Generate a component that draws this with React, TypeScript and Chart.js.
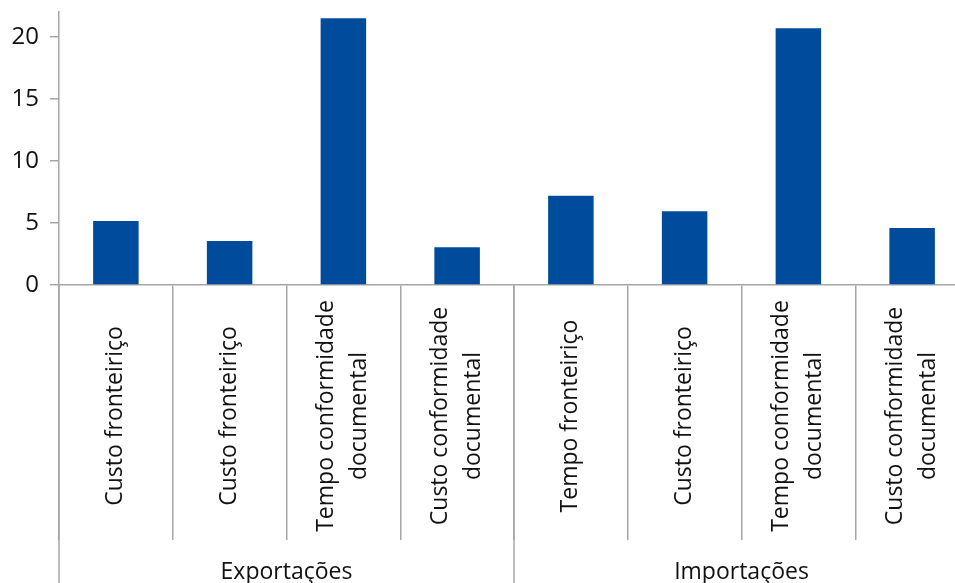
import { useEffect, useRef } from "react";
import { Chart, registerables } from "chart.js";

Chart.register(...registerables);

// categories of the lower axis level, one array of lines per bar
const categories: string[][] = [
  ["Custo fronteiriço"],
  ["Custo fronteiriço"],
  ["Tempo conformidade", "documental"],
  ["Custo conformidade", "documental"],
  ["Tempo fronteiriço"],
  ["Custo fronteiriço"],
  ["Tempo conformidade", "documental"],
  ["Custo conformidade", "documental"],
];

// upper axis level
const groups = ["Exportações", "Importações"];
const groupSizes = [4, 4];

const values = [5.15, 3.55, 21.5, 3.05, 7.2, 5.95, 20.7, 4.6];

const yTicks = [0, 5, 10, 15, 20];

const FONT = "'Open Sans', 'Noto Sans', sans-serif";
const GREY = "#a6a6a6";
const BLUE = "#004b9b";

// draws the two-level category axis from the x scale
const groupAxisPlugin = {
  id: "groupAxis",
  afterDraw(chart: Chart) {
    const x = chart.scales.x;
    const ctx = chart.ctx;
    const step = x.getPixelForValue(1) - x.getPixelForValue(0);

    ctx.save();
    ctx.fillStyle = "#111";
    ctx.font = `23px ${FONT}`;
    ctx.textAlign = "center";
    ctx.textBaseline = "middle";

    const midY = x.top + 131;
    const lineH = 33;
    categories.forEach((lines, i) => {
      const px = x.getPixelForValue(i);
      ctx.save();
      ctx.translate(px, midY);
      ctx.rotate(-Math.PI / 2);
      lines.forEach((line, j) => {
        ctx.fillText(line, 0, (j - (lines.length - 1) / 2) * lineH);
      });
      ctx.restore();
    });

    // group separators and names
    ctx.strokeStyle = GREY;
    ctx.lineWidth = 1.5;
    ctx.textBaseline = "alphabetic";
    let start = 0;
    groups.forEach((name, g) => {
      const end = start + groupSizes[g] - 1;
      const left = x.getPixelForValue(start) - step / 2;
      ctx.beginPath();
      ctx.moveTo(left, x.top);
      ctx.lineTo(left, chart.height);
      ctx.stroke();
      const cx = (x.getPixelForValue(start) + x.getPixelForValue(end)) / 2;
      ctx.fillText(name, cx, x.bottom - 4);
      start = end + 1;
    });
    ctx.restore();
  },
};

export default function App() {
  const canvasRef = useRef<HTMLCanvasElement>(null);

  useEffect(() => {
    document.body.style.margin = "0";
    const ctx = canvasRef.current?.getContext("2d");
    if (!ctx) return;

    const chart = new Chart(ctx, {
      type: "bar",
      data: {
        labels: categories.map((c) => c.join(" ")),
        datasets: [
          {
            data: values,
            backgroundColor: BLUE,
            barPercentage: 0.4,
            categoryPercentage: 1,
          },
        ],
      },
      options: {
        animation: false,
        responsive: true,
        maintainAspectRatio: false,
        plugins: {
          legend: { display: false },
          tooltip: { enabled: false },
        },
        scales: {
          x: {
            offset: true,
            ticks: { display: false },
            grid: {
              offset: true,
              drawOnChartArea: false,
              tickLength: 255,
              lineWidth: 1.5,
              color: (c: any) => (c.type === "tick" ? GREY : "transparent"),
            },
            border: { color: GREY, width: 1.5 },
            afterFit: (scale: any) => {
              scale.height = 298;
            },
          },
          y: {
            min: 0,
            max: 22,
            bounds: "data",
            afterBuildTicks: (scale: any) => {
              scale.ticks = yTicks.map((v) => ({ value: v }));
            },
            ticks: {
              padding: 11,
              color: "#111",
              font: { family: FONT, size: 24, lineHeight: 1 },
            },
            grid: {
              drawOnChartArea: false,
              tickLength: 9,
              lineWidth: 1.5,
              color: GREY,
            },
            border: { color: GREY, width: 1.5 },
            afterFit: (scale: any) => {
              scale.width = 59;
              scale.paddingTop = 12;
              scale.paddingBottom = 0;
            },
          },
        },
      },
      plugins: [groupAxisPlugin],
    });

    return () => chart.destroy();
  }, []);

  // the original plot runs a little past the right edge of the picture
  return (
    <div style={{ width: 955, height: 583, overflow: "hidden" }}>
      <div style={{ position: "relative", width: 969, height: 583 }}>
        <canvas ref={canvasRef} />
      </div>
    </div>
  );
}
